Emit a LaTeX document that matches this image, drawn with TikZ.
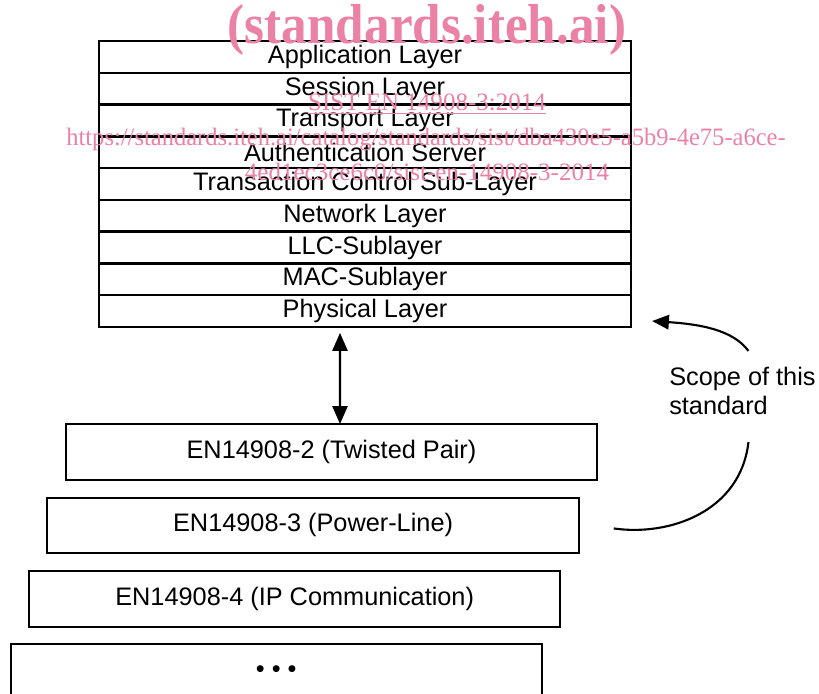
\documentclass[tikz,border=0pt]{standalone}
\usepackage{fontspec}
\setmainfont{Liberation Sans}
\newfontfamily\wmfont{Liberation Serif}
\usetikzlibrary{arrows.meta,positioning}
\definecolor{wmpink}{RGB}{235,130,165}

\begin{document}
\begin{tikzpicture}[
        x=0.025cm, y=-0.025cm,
        node distance=0pt,
        layer/.style={rectangle, draw=black, minimum width=13.3cm, minimum height=0.794cm,
                      inner sep=0pt, outer sep=0pt, line width=1.7pt,
                      font=\fontsize{18}{21}\selectfont},
        medium/.style={rectangle, draw=black, minimum width=13.28cm, minimum height=1.39cm,
                       inner sep=0pt, outer sep=0pt, line width=1.5pt,
                       font=\fontsize{18}{21}\selectfont},
        arrow/.style={{Triangle[length=0.45cm,width=0.38cm]}-{Triangle[length=0.45cm,width=0.38cm]},
                      line width=1.5pt},
        scopearrow/.style={-{Triangle[length=0.42cm,width=0.36cm]}, line width=1.5pt},
        scopeline/.style={line width=1.5pt},
        wm/.style={text=wmpink, inner sep=0pt, font=\wmfont\fontsize{17.8}{20}\selectfont}
    ]
        \useasboundingbox (0,0) rectangle (819,693);

        % protocol stack
        \node[layer, anchor=north] (app) at (365,41) {Application Layer};
        \node[layer, below=of app] (session) {Session Layer};
        \node[layer, below=of session] (transport) {Transport Layer};
        \node[layer, below=of transport] (auth) {Authentication Server};
        \node[layer, below=of auth] (tcsl) {Transaction Control Sub-Layer};
        \node[layer, below=of tcsl] (network) {Network Layer};
        \node[layer, below=of network] (llc) {LLC-Sublayer};
        \node[layer, below=of llc] (mac) {MAC-Sublayer};
        \node[layer, below=of mac] (phys) {Physical Layer};

        % media
        \node[medium, anchor=north] (twisted) at (331.5,424) {EN14908-2 (Twisted Pair)};
        \node[medium, below=0.45cm of twisted, xshift=-0.46cm] (power) {EN14908-3 (Power-Line)};
        \node[medium, below=0.45cm of power, xshift=-0.46cm] (ip) {EN14908-4 (IP Communication)};
        \node[medium, below=0.42cm of ip, xshift=-0.46cm] (more) {• • •};

        \draw[arrow, shorten <=0.15cm] ([xshift=-0.625cm]phys.south) -- ([xshift=0.2125cm]twisted.north);

        % scope note
        \node[anchor=west, align=left, inner sep=0pt, font=\fontsize{18}{20.6}\selectfont] (scope) at (669,391)
            {Scope of this\\standard};
        \draw[scopearrow] ([shift={(6,-16)}]scope.north) .. controls +(-16,-22) and +(45,3) .. ([shift={(21,10)}]phys.east);
        \draw[scopeline] ([shift={(6,27)}]scope.south) .. controls +(-8,70) and +(55,8) .. ([shift={(35,3)}]power.east);

        % watermark
        \node[wm, font=\wmfont\bfseries\fontsize{36.4}{40}\selectfont, yscale=1.1] (wmsite) at (427,30) {(standards.iteh.ai)};
        \node[wm] (wmsist) at (427,104) {\underline{SIST EN 14908-3:2014}};
        \node[wm, xscale=0.98] (wmurl) at (426,140) {https://standards.iteh.ai/catalog/standards/sist/dba430e5-a5b9-4e75-a6ce-};
        \node[wm] (wmurltail) at (427,172) {4ed1ec3ce6c0/sist-en-14908-3-2014};
    \end{tikzpicture}
\end{document}
